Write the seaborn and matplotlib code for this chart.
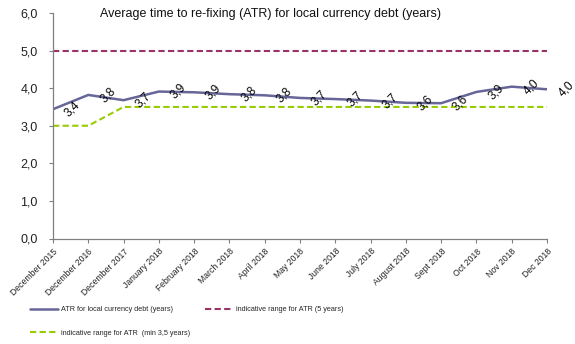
import matplotlib
matplotlib.use("Agg")
import matplotlib.pyplot as plt
import seaborn as sns
import pandas as pd

# Reporting periods
periods = ["December 2015", "December 2016", "December 2017", "January 2018",
           "February 2018", "March 2018", "April 2018", "May 2018", "June 2018",
           "July 2018", "August 2018", "Sept 2018", "Oct 2018", "Nov 2018",
           "Dec 2018"]

# Average time to re-fixing for local currency debt (years)
atr = [3.44, 3.82, 3.68, 3.91, 3.89, 3.84, 3.81, 3.74, 3.71, 3.67, 3.61,
       3.60, 3.90, 4.04, 3.97]

# Indicative range bounds
atr_max = [5.0] * 15
atr_min = [3.0, 3.0, 3.5, 3.5, 3.5, 3.5, 3.5, 3.5, 3.5, 3.5, 3.5, 3.5,
           3.5, 3.5, 3.5]

y_ticks = [0.0, 1.0, 2.0, 3.0, 4.0, 5.0, 6.0]

lbl_atr = "ATR for local currency debt (years)"
lbl_max = "indicative range for ATR (5 years)"
lbl_min = "indicative range for ATR  (min 3,5 years)"

df = pd.DataFrame({"period": periods, "atr": atr,
                   "max": atr_max, "min": atr_min})

sns.set_theme(style="white")
plt.rcParams["font.family"] = ["Liberation Sans", "DejaVu Sans"]

fig = plt.figure(figsize=(5.75, 3.44), dpi=100)
ax = fig.add_axes([53 / 575, 1 - 238.5 / 344, 494 / 575, 225.5 / 344])

sns.lineplot(data=df, x="period", y="max", ax=ax, color="#993366",
             linewidth=1.5, label=lbl_max, sort=False)
ax.lines[-1].set_dashes((3, 1.6))
sns.lineplot(data=df, x="period", y="min", ax=ax, color="#99CC00",
             linewidth=1.5, label=lbl_min, sort=False)
ax.lines[-1].set_dashes((3, 1.6))
sns.lineplot(data=df, x="period", y="atr", ax=ax, color="#666699",
             linewidth=1.8, label=lbl_atr, sort=False)

# Value labels, rotated and set to the right of each point
for i, v in enumerate(atr):
    ax.annotate(f"{v:.1f}".replace(".", ","), (i, v), xytext=(14, 0),
                textcoords="offset points", rotation=45, ha="center",
                va="center", fontsize=8.5, color="black",
                annotation_clip=False)

ax.set_xlim(0, len(periods) - 1)
ax.set_ylim(0, 6)
ax.set_yticks(y_ticks)
ax.set_yticklabels([f"{t:.1f}".replace(".", ",") for t in y_ticks],
                   fontsize=9, color="#222222")
ax.set_xticks(range(len(periods)))
ax.set_xticklabels(periods, rotation=45, ha="right", rotation_mode="anchor",
                   fontsize=6.2, color="#222222")
ax.tick_params(axis="both", which="both", length=3, width=0.8,
               color="#808080", direction="out", pad=3)
ax.tick_params(axis="y", pad=8)
ax.tick_params(left=True, bottom=True)
ax.set_xlabel("")
ax.set_ylabel("")

for s in ["top", "right"]:
    ax.spines[s].set_visible(False)
for s in ["left", "bottom"]:
    ax.spines[s].set_color("#808080")
    ax.spines[s].set_linewidth(0.9)

fig.text(270 / 575, 1 - 14 / 344, "Average time to re-fixing (ATR) for local currency debt (years)",
         ha="center", va="center", fontsize=9, color="#111111")

handles, labels = ax.get_legend_handles_labels()
order = {lbl_atr: 0, lbl_min: 1, lbl_max: 2}
pairs = sorted(zip(handles, labels), key=lambda p: order[p[1]])
ax.legend([p[0] for p in pairs], [p[1] for p in pairs], ncol=2,
          loc="upper left", bbox_to_anchor=(30 / 575, 1 - 306 / 344),
          bbox_transform=fig.transFigure, frameon=False, fontsize=5.2,
          handlelength=3.9, handletextpad=0.4, columnspacing=2.0,
          labelspacing=2.3, borderpad=0, borderaxespad=0)

fig.savefig("out.png", dpi=100, facecolor="white")
